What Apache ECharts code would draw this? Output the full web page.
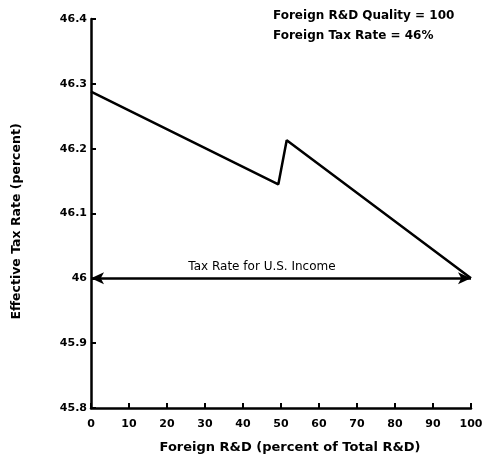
<!DOCTYPE html>
<html>
<head>
<meta charset="utf-8">
<script src="https://cdn.jsdelivr.net/npm/echarts@6/dist/echarts.min.js"></script>
<style>html,body{margin:0;padding:0;background:#fff;}#c{width:486px;height:463px;}</style>
</head>
<body>
<div id="c"></div>
<script>
var foreignRD = [0, 49.3, 51.5, 100];
var effectiveRate = [46.288, 46.145, 46.213, 46.0];
var usRate = 46.0;
var usRateLabel = 'Tax Rate for U.S. Income';
var noteLines = ['Foreign R&D Quality = 100', 'Foreign Tax Rate = 46%'];
var xName = 'Foreign R&D (percent of Total R&D)';
var yName = 'Effective Tax Rate (percent)';

var FONT = '"DejaVu Sans", Verdana, sans-serif';
var chart = echarts.init(document.getElementById('c'));
chart.setOption({
  animation: false,
  backgroundColor: '#fff',
  grid: {left: 91, right: 15, top: 19, bottom: 55},
  xAxis: {
    type: 'value', min: 0, max: 100, interval: 10,
    name: xName, nameLocation: 'middle', nameGap: 33,
    nameTextStyle: {fontFamily: FONT, fontWeight: 'bold', fontSize: 13, color: '#000', padding: [0, 0, 0, 18]},
    axisLine: {show: true, lineStyle: {color: '#000', width: 2.5}},
    axisTick: {show: true, inside: true, length: 5, lineStyle: {color: '#000', width: 2}},
    axisLabel: {fontFamily: FONT, fontWeight: 'bold', fontSize: 11, color: '#000', margin: 11},
    splitLine: {show: false}
  },
  yAxis: {
    type: 'value', min: 45.8, max: 46.4, interval: 0.1,
    name: yName, nameLocation: 'middle', nameGap: 68,
    nameTextStyle: {fontFamily: FONT, fontWeight: 'bold', fontSize: 12.5, color: '#000', padding: [0, 16, 0, 0]},
    axisLine: {show: true, lineStyle: {color: '#000', width: 2.5}},
    axisTick: {show: true, inside: true, length: 5, lineStyle: {color: '#000', width: 2}},
    axisLabel: {fontFamily: FONT, fontWeight: 'bold', fontSize: 11, color: '#000', margin: 4,
      formatter: function (v) { return String(Math.round(v * 10) / 10); }},
    splitLine: {show: false}
  },
  graphic: [{
    type: 'text', left: 273, top: 6,
    style: {text: noteLines.join('\n'), fontFamily: FONT, fontWeight: 'bold', fontSize: 12, lineHeight: 20, fill: '#000'}
  }],
  series: [{
    type: 'line',
    data: foreignRD.map(function (x, i) { return [x, effectiveRate[i]]; }),
    symbol: 'none',
    lineStyle: {color: '#000', width: 2.5},
    markLine: {
      silent: true,
      symbol: ['arrow', 'arrow'],
      symbolSize: [9, 13],
      lineStyle: {color: '#000', width: 2.5, type: 'solid'},
      label: {show: true, position: 'middle', formatter: usRateLabel, fontFamily: FONT, fontSize: 12, color: '#000', distance: 5, offset: [-19, 0]},
      data: [[{coord: [0, usRate]}, {coord: [100, usRate]}]]
    }
  }]
});
</script>
</body>
</html>
